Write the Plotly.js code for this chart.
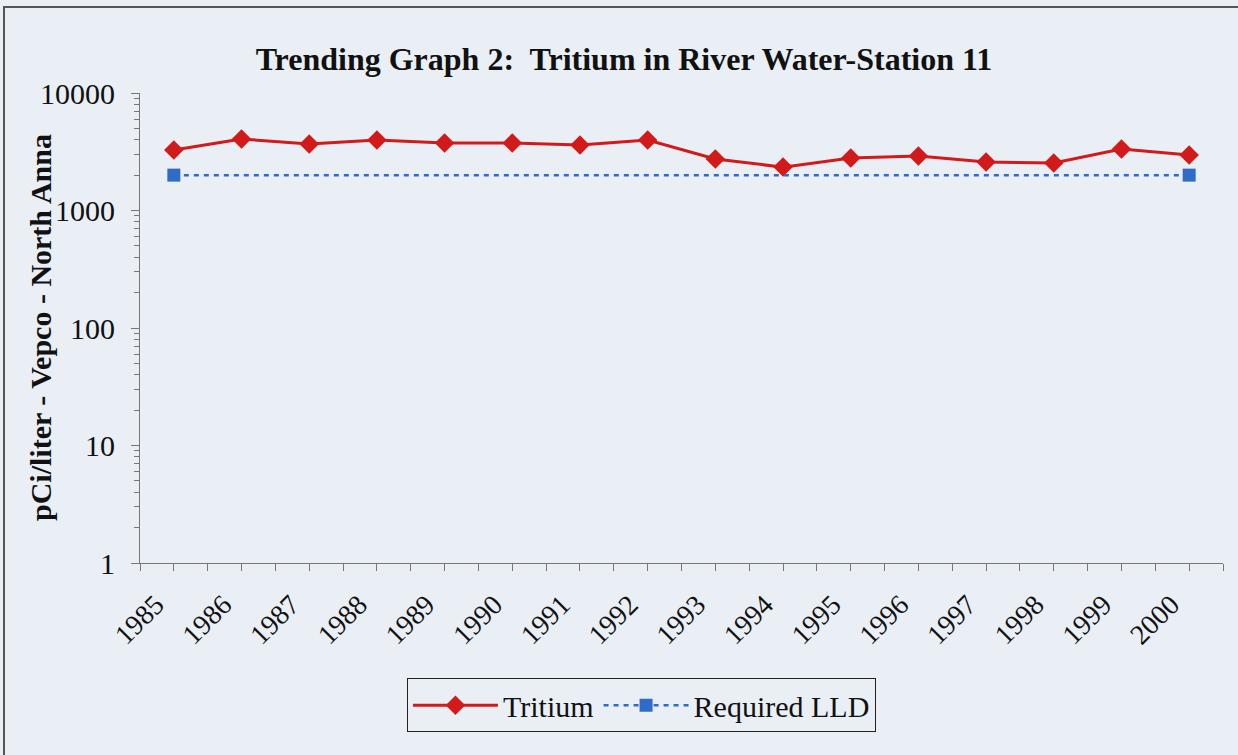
<!DOCTYPE html>
<html>
<head>
<meta charset="utf-8">
<script src="https://cdn.plot.ly/plotly-3.0.1.min.js"></script>
<style>
  html, body { margin: 0; padding: 0; background: #e9eff4; }
  #wrap { position: relative; width: 1238px; height: 755px; overflow: hidden; }
  #chart { width: 1238px; height: 755px; }
  #frame { position: absolute; left: 3px; top: 6px; width: 1300px; height: 800px;
           border-left: 2px solid #555; border-top: 2px solid #555; pointer-events: none; }
</style>
</head>
<body>
<div id="wrap">
  <div id="chart"></div>
  <div id="frame"></div>
</div>
<script>
const years = [1985, 1986, 1987, 1988, 1989, 1990, 1991, 1992, 1993, 1994, 1995, 1996, 1997, 1998, 1999, 2000];
const tritium = [3270, 4060, 3680, 3980, 3750, 3750, 3610, 3980, 2740, 2340, 2800, 2910, 2590, 2540, 3340, 2970];
const lldYears = [1985, 2000];
const lldValues = [2000, 2000];
const yTickVals = [1, 10, 100, 1000, 10000];
const yTickText = ["1", "10", "100", "1000", "10000"];
const yTitle = "pCi/liter - Vepco - North Anna";

const serif = "Liberation Serif, Times New Roman, serif";

const traces = [
  {
    x: years, y: tritium, name: "Tritium", type: "scatter", mode: "lines+markers",
    line: { color: "#d21a1a", width: 3 },
    marker: { symbol: "diamond", size: 15, color: "#d21a1a" }
  },
  {
    x: lldYears, y: lldValues, name: "Required LLD", type: "scatter", mode: "lines+markers",
    line: { color: "#2e6cc8", width: 2.5, dash: "5px,5px" },
    marker: { symbol: "square", size: 13, color: "#2e6cc8" }
  }
];

const layout = {
  width: 1238, height: 755,
  paper_bgcolor: "rgba(0,0,0,0)", plot_bgcolor: "rgba(0,0,0,0)",
  margin: { l: 140, r: 15, t: 93, b: 192 },
  showlegend: true,
  title: {
    text: "<b>Trending Graph 2:&nbsp; Tritium in River Water-Station 11</b>",
    font: { family: serif, size: 32, color: "#111" },
    x: 0.504, xanchor: "center", xref: "container", y: 0.922, yanchor: "middle"
  },
  font: { family: serif, color: "#111" },
  xaxis: {
    type: "linear", range: [1984.5, 2000.5],
    tickmode: "array", tickvals: years, ticktext: years.map(String),
    tickangle: -45, tickfont: { family: serif, size: 28, color: "#111" },
    ticklabelshift: -18, ticklabelstandoff: 6,
    ticks: "outside", ticklen: 7, tickcolor: "#777", tickwidth: 1,
    minor: { tick0: 1984.5, dtick: 1, ticks: "outside", ticklen: 7, tickcolor: "#777", showgrid: false },
    showline: true, linecolor: "#777", linewidth: 1,
    showgrid: false, zeroline: false, fixedrange: true
  },
  yaxis: {
    type: "log", range: [0, 4],
    tickmode: "array", tickvals: yTickVals, ticktext: yTickText,
    tickfont: { family: serif, size: 30, color: "#111" },
    ticklabelstandoff: 10,
    ticks: "outside", ticklen: 8, tickcolor: "#777", tickwidth: 1,
    minor: { dtick: "D1", ticks: "outside", ticklen: 5, tickcolor: "#777", showgrid: false },
    showline: true, linecolor: "#777", linewidth: 1,
    showgrid: false, zeroline: false
  },
  annotations: [
    {
      text: "<b>" + yTitle + "</b>", textangle: -90,
      xref: "paper", yref: "paper", x: -0.0923, y: 0.5,
      xanchor: "center", yanchor: "middle", showarrow: false,
      font: { family: serif, size: 30, color: "#111" }
    }
  ],
  legend: {
    orientation: "h", x: 0.2465, xanchor: "left", y: -0.245, yanchor: "top",
    itemwidth: 85,
    bgcolor: "rgba(0,0,0,0)", bordercolor: "#222", borderwidth: 1,
    font: { family: serif, size: 30, color: "#111" }
  }
};

Plotly.newPlot("chart", traces, layout, { staticPlot: true, displayModeBar: false });
</script>
</body>
</html>
